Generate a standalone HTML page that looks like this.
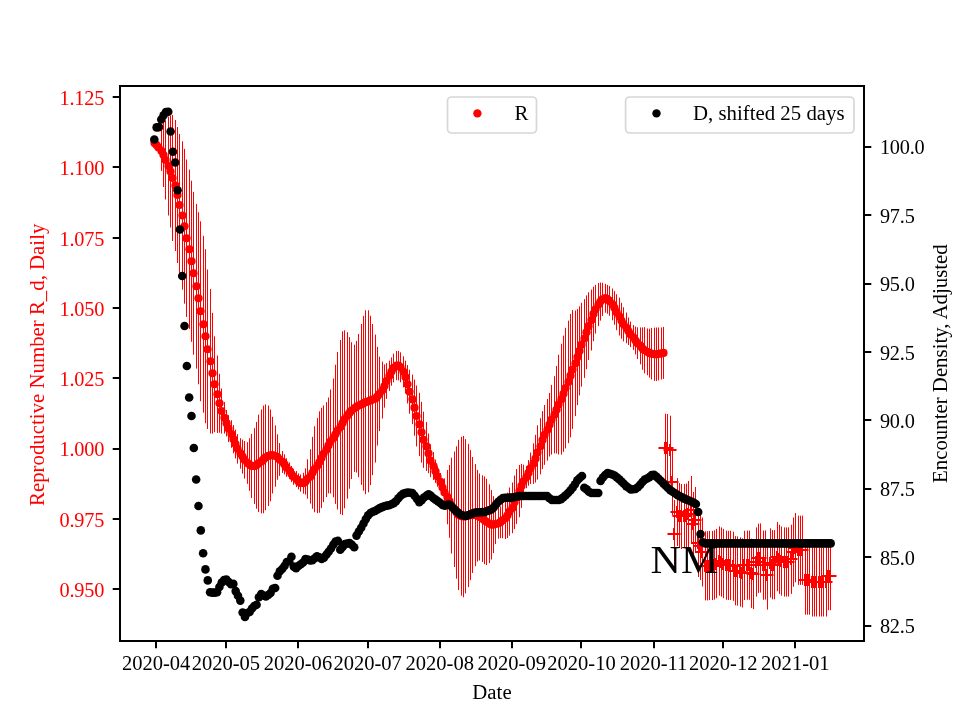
<!DOCTYPE html>
<html lang="en"><head><meta charset="utf-8"><title>R and D</title>
<style>html,body{margin:0;padding:0;background:#fff}svg{display:block}text{font-family:"Liberation Serif","Times New Roman",serif;font-size:20.83px}.yt{font-size:20.3px;letter-spacing:-0.2px}</style></head><body>
<svg width="960" height="720" viewBox="0 0 960 720">
<rect width="960" height="720" fill="#fff"/>
<g fill="#f00"><circle cx="154.5" cy="143" r="4.1"/><circle cx="156.5" cy="145" r="4.1"/><circle cx="158.5" cy="147.5" r="4.1"/><circle cx="161.5" cy="151" r="4.1"/><circle cx="163.5" cy="155" r="4.1"/><circle cx="165.5" cy="160" r="4.1"/><circle cx="168.5" cy="166" r="4.1"/><circle cx="170.5" cy="171.5" r="4.1"/><circle cx="172.5" cy="178" r="4.1"/><circle cx="175.5" cy="185.5" r="4.1"/><circle cx="177.5" cy="195" r="4.1"/><circle cx="179.5" cy="205" r="4.1"/><circle cx="182.5" cy="215.5" r="4.1"/><circle cx="184.5" cy="226.25" r="4.1"/><circle cx="186.5" cy="238.25" r="4.1"/><circle cx="189.5" cy="249.25" r="4.1"/><circle cx="191.5" cy="261.25" r="4.1"/><circle cx="193.5" cy="273.25" r="4.1"/><circle cx="196.5" cy="286.25" r="4.1"/><circle cx="198.5" cy="298.25" r="4.1"/><circle cx="200.5" cy="311.25" r="4.1"/><circle cx="203.5" cy="324.25" r="4.1"/><circle cx="205.5" cy="336.25" r="4.1"/><circle cx="207.5" cy="349.25" r="4.1"/><circle cx="210.5" cy="361.25" r="4.1"/><circle cx="212.5" cy="373.25" r="4.1"/><circle cx="214.5" cy="384.25" r="4.1"/><circle cx="217.5" cy="394.25" r="4.1"/><circle cx="219.5" cy="403.25" r="4.1"/><circle cx="221.5" cy="411" r="4.1"/><circle cx="224.5" cy="417.8" r="4.1"/><circle cx="226.5" cy="423.19" r="4.1"/><circle cx="228.5" cy="428.62" r="4.1"/><circle cx="231.5" cy="434.04" r="4.1"/><circle cx="233.5" cy="439.24" r="4.1"/><circle cx="235.5" cy="444.04" r="4.1"/><circle cx="237.5" cy="448.85" r="4.1"/><circle cx="240.5" cy="453.43" r="4.1"/><circle cx="242.5" cy="456.62" r="4.1"/><circle cx="244.5" cy="459.82" r="4.1"/><circle cx="247.5" cy="463.01" r="4.1"/><circle cx="249.5" cy="464.57" r="4.1"/><circle cx="251.5" cy="465.96" r="4.1"/><circle cx="254.5" cy="466.05" r="4.1"/><circle cx="256.5" cy="465.32" r="4.1"/><circle cx="258.5" cy="463.4" r="4.1"/><circle cx="261.5" cy="461.43" r="4.1"/><circle cx="263.5" cy="459.42" r="4.1"/><circle cx="265.5" cy="457.4" r="4.1"/><circle cx="268.5" cy="455.86" r="4.1"/><circle cx="270.5" cy="455.39" r="4.1"/><circle cx="272.5" cy="455.14" r="4.1"/><circle cx="275.5" cy="456.07" r="4.1"/><circle cx="277.5" cy="457" r="4.1"/><circle cx="279.5" cy="459.48" r="4.1"/><circle cx="282.5" cy="461.96" r="4.1"/><circle cx="284.5" cy="464.44" r="4.1"/><circle cx="286.5" cy="467.52" r="4.1"/><circle cx="289.5" cy="470.78" r="4.1"/><circle cx="291.5" cy="474.03" r="4.1"/><circle cx="293.5" cy="476.77" r="4.1"/><circle cx="296.5" cy="479.1" r="4.1"/><circle cx="298.5" cy="481.42" r="4.1"/><circle cx="300.5" cy="483.06" r="4.1"/><circle cx="303.5" cy="483.25" r="4.1"/><circle cx="305.5" cy="481.47" r="4.1"/><circle cx="307.5" cy="478.96" r="4.1"/><circle cx="310.5" cy="476.43" r="4.1"/><circle cx="312.5" cy="472.83" r="4.1"/><circle cx="314.5" cy="469.23" r="4.1"/><circle cx="317.5" cy="465.62" r="4.1"/><circle cx="319.5" cy="462.02" r="4.1"/><circle cx="321.5" cy="458" r="4.1"/><circle cx="323.5" cy="453.82" r="4.1"/><circle cx="326.5" cy="449.63" r="4.1"/><circle cx="328.5" cy="445.45" r="4.1"/><circle cx="330.5" cy="441.51" r="4.1"/><circle cx="333.5" cy="437.91" r="4.1"/><circle cx="335.5" cy="434.3" r="4.1"/><circle cx="337.5" cy="430.7" r="4.1"/><circle cx="340.5" cy="427.07" r="4.1"/><circle cx="342.5" cy="423.19" r="4.1"/><circle cx="344.5" cy="419.32" r="4.1"/><circle cx="347.5" cy="415.45" r="4.1"/><circle cx="349.5" cy="412.94" r="4.1"/><circle cx="351.5" cy="410.62" r="4.1"/><circle cx="354.5" cy="408.29" r="4.1"/><circle cx="356.5" cy="406.74" r="4.1"/><circle cx="358.5" cy="405.57" r="4.1"/><circle cx="361.5" cy="404.41" r="4.1"/><circle cx="363.5" cy="403.25" r="4.1"/><circle cx="365.5" cy="402.19" r="4.1"/><circle cx="368.5" cy="401.3" r="4.1"/><circle cx="370.5" cy="400.42" r="4.1"/><circle cx="372.5" cy="399.54" r="4.1"/><circle cx="375.5" cy="398.58" r="4.1"/><circle cx="377.5" cy="396.25" r="4.1"/><circle cx="379.5" cy="393.93" r="4.1"/><circle cx="382.5" cy="390.05" r="4.1"/><circle cx="384.5" cy="386.01" r="4.1"/><circle cx="386.5" cy="381.05" r="4.1"/><circle cx="389.5" cy="375.8" r="4.1"/><circle cx="391.5" cy="371.55" r="4.1"/><circle cx="393.5" cy="367.97" r="4.1"/><circle cx="396.5" cy="365.58" r="4.1"/><circle cx="398.5" cy="365.62" r="4.1"/><circle cx="400.5" cy="367.28" r="4.1"/><circle cx="403.5" cy="371.78" r="4.1"/><circle cx="405.5" cy="377.06" r="4.1"/><circle cx="407.5" cy="384.28" r="4.1"/><circle cx="409.5" cy="391.74" r="4.1"/><circle cx="412.5" cy="399.38" r="4.1"/><circle cx="414.5" cy="407.63" r="4.1"/><circle cx="416.5" cy="415.99" r="4.1"/><circle cx="419.5" cy="424.41" r="4.1"/><circle cx="421.5" cy="432.23" r="4.1"/><circle cx="423.5" cy="439.79" r="4.1"/><circle cx="426.5" cy="446.45" r="4.1"/><circle cx="428.5" cy="453.4" r="4.1"/><circle cx="430.5" cy="460.71" r="4.1"/><circle cx="433.5" cy="466.02" r="4.1"/><circle cx="435.5" cy="471.25" r="4.1"/><circle cx="437.5" cy="476.48" r="4.1"/><circle cx="440.5" cy="481.93" r="4.1"/><circle cx="442.5" cy="487.56" r="4.1"/><circle cx="444.5" cy="492.54" r="4.1"/><circle cx="447.5" cy="497.16" r="4.1"/><circle cx="449.5" cy="501.43" r="4.1"/><circle cx="451.5" cy="505.63" r="4.1"/><circle cx="454.5" cy="509.23" r="4.1"/><circle cx="456.5" cy="512.5" r="4.1"/><circle cx="458.5" cy="514.93" r="4.1"/><circle cx="461.5" cy="516.23" r="4.1"/><circle cx="463.5" cy="516.56" r="4.1"/><circle cx="465.5" cy="516.28" r="4.1"/><circle cx="468.5" cy="515.46" r="4.1"/><circle cx="470.5" cy="515.13" r="4.1"/><circle cx="472.5" cy="515.04" r="4.1"/><circle cx="475.5" cy="515.11" r="4.1"/><circle cx="477.5" cy="515.68" r="4.1"/><circle cx="479.5" cy="516.97" r="4.1"/><circle cx="482.5" cy="518.67" r="4.1"/><circle cx="484.5" cy="520.29" r="4.1"/><circle cx="486.5" cy="521.87" r="4.1"/><circle cx="489.5" cy="523.72" r="4.1"/><circle cx="491.5" cy="524.7" r="4.1"/><circle cx="493.5" cy="524.62" r="4.1"/><circle cx="495.5" cy="524.08" r="4.1"/><circle cx="498.5" cy="523.31" r="4.1"/><circle cx="500.5" cy="522.22" r="4.1"/><circle cx="502.5" cy="520.26" r="4.1"/><circle cx="505.5" cy="518.31" r="4.1"/><circle cx="507.5" cy="515.33" r="4.1"/><circle cx="509.5" cy="511.61" r="4.1"/><circle cx="512.5" cy="507.89" r="4.1"/><circle cx="514.5" cy="502.29" r="4.1"/><circle cx="516.5" cy="496.48" r="4.1"/><circle cx="519.5" cy="491.11" r="4.1"/><circle cx="521.5" cy="485.88" r="4.1"/><circle cx="523.5" cy="481.27" r="4.1"/><circle cx="526.5" cy="477.08" r="4.1"/><circle cx="528.5" cy="472.9" r="4.1"/><circle cx="530.5" cy="468.3" r="4.1"/><circle cx="533.5" cy="463.65" r="4.1"/><circle cx="535.5" cy="458.66" r="4.1"/><circle cx="537.5" cy="452.47" r="4.1"/><circle cx="540.5" cy="446.27" r="4.1"/><circle cx="542.5" cy="440.07" r="4.1"/><circle cx="544.5" cy="434.94" r="4.1"/><circle cx="547.5" cy="429.83" r="4.1"/><circle cx="549.5" cy="424.72" r="4.1"/><circle cx="551.5" cy="419.72" r="4.1"/><circle cx="554.5" cy="414.76" r="4.1"/><circle cx="556.5" cy="409.8" r="4.1"/><circle cx="558.5" cy="404.6" r="4.1"/><circle cx="561.5" cy="399.17" r="4.1"/><circle cx="563.5" cy="393.75" r="4.1"/><circle cx="565.5" cy="388.09" r="4.1"/><circle cx="568.5" cy="381.89" r="4.1"/><circle cx="570.5" cy="375.69" r="4.1"/><circle cx="572.5" cy="369.49" r="4.1"/><circle cx="575.5" cy="363.3" r="4.1"/><circle cx="577.5" cy="357.1" r="4.1"/><circle cx="579.5" cy="350.9" r="4.1"/><circle cx="581.5" cy="344.7" r="4.1"/><circle cx="584.5" cy="338.5" r="4.1"/><circle cx="586.5" cy="332.31" r="4.1"/><circle cx="588.5" cy="326.16" r="4.1"/><circle cx="591.5" cy="320.05" r="4.1"/><circle cx="593.5" cy="313.94" r="4.1"/><circle cx="595.5" cy="309.23" r="4.1"/><circle cx="598.5" cy="304.59" r="4.1"/><circle cx="600.5" cy="301.62" r="4.1"/><circle cx="602.5" cy="299.31" r="4.1"/><circle cx="605.5" cy="298.22" r="4.1"/><circle cx="607.5" cy="299.29" r="4.1"/><circle cx="609.5" cy="300.92" r="4.1"/><circle cx="612.5" cy="304.39" r="4.1"/><circle cx="614.5" cy="307.97" r="4.1"/><circle cx="616.5" cy="312.19" r="4.1"/><circle cx="619.5" cy="316.56" r="4.1"/><circle cx="621.5" cy="320.77" r="4.1"/><circle cx="623.5" cy="324.35" r="4.1"/><circle cx="626.5" cy="327.92" r="4.1"/><circle cx="628.5" cy="331.3" r="4.1"/><circle cx="630.5" cy="334.4" r="4.1"/><circle cx="633.5" cy="337.5" r="4.1"/><circle cx="635.5" cy="340.52" r="4.1"/><circle cx="637.5" cy="343.21" r="4.1"/><circle cx="640.5" cy="345.91" r="4.1"/><circle cx="642.5" cy="348.61" r="4.1"/><circle cx="644.5" cy="350.26" r="4.1"/><circle cx="647.5" cy="351.87" r="4.1"/><circle cx="649.5" cy="353.16" r="4.1"/><circle cx="651.5" cy="353.72" r="4.1"/><circle cx="654.5" cy="354.27" r="4.1"/><circle cx="656.5" cy="354.28" r="4.1"/><circle cx="658.5" cy="353.91" r="4.1"/><circle cx="661.5" cy="353.46" r="4.1"/><circle cx="663.5" cy="352.9" r="4.1"/></g>
<path d="M154.5 142V144M156.5 144V146M158.5 145.5V149.5M161.5 131V171M163.5 123V187M165.5 120.5V199.5M168.5 116.5V215.5M170.5 115.5V227.5M172.5 115V241M175.5 120V251M177.5 127V263M179.5 134V276M182.5 141.32V289.68M184.5 148.89V303.61M186.5 159.52V316.98M189.5 169.61V328.89M191.5 180.7V341.8M193.5 191.8V354.7M196.5 203.89V368.61M198.5 212.22V384.28M200.5 221.31V401.19M203.5 235.77V412.73M205.5 249.22V423.28M207.5 269.53V428.97M210.5 288.97V433.53M212.5 312.83V433.67M214.5 336.24V432.26M217.5 355.54V432.96M219.5 373.83V432.67M221.5 388.46V433.54M224.5 402.02V433.58M226.5 410.01V436.38M228.5 415.13V442.11M231.5 420.24V447.84M233.5 425.13V453.35M235.5 429.62V458.47M237.5 434.11V463.58M240.5 438.2V468.67M242.5 439.65V473.6M244.5 440.99V478.64M247.5 442.19V483.83M249.5 438.29V490.85M251.5 433.87V498.05M254.5 428.15V503.95M256.5 421.88V508.76M258.5 414.73V512.07M261.5 409.45V513.41M263.5 405.63V513.21M265.5 404.48V510.32M268.5 405.6V506.12M270.5 409.49V501.29M272.5 416.8V493.49M275.5 425.4V486.74M277.5 434.3V479.71M279.5 443.05V475.91M282.5 451.02V472.91M284.5 454.37V474.51M286.5 458.32V476.72M289.5 462.45V479.1M291.5 466.03V482.03M293.5 468.77V484.77M296.5 471.1V487.1M298.5 473.42V489.42M300.5 474.46V491.66M303.5 472.79V493.71M305.5 468.36V494.58M307.5 459.26V498.66M310.5 449.27V503.6M312.5 436.87V508.79M314.5 426.27V512.19M317.5 418.08V513.17M319.5 411.31V512.73M321.5 407.85V508.15M323.5 405.43V502.2M326.5 402.17V497.1M328.5 397.54V493.36M330.5 389.5V493.52M333.5 378.52V497.29M335.5 364.69V503.91M337.5 351.95V509.45M340.5 339.93V514.2M342.5 331.28V515.11M344.5 330.3V508.34M347.5 332.19V498.7M349.5 337.13V488.76M351.5 342.24V479M354.5 344.71V471.88M356.5 340.94V472.53M358.5 333.99V477.16M361.5 323.99V484.83M363.5 315.84V490.66M365.5 310.24V494.13M368.5 310.28V492.32M370.5 315.79V485.05M372.5 323.94V475.14M375.5 334.58V462.57M377.5 346.91V445.59M379.5 356.75V431.11M382.5 361.6V418.5M384.5 364.39V407.63M386.5 363.15V398.96M389.5 360.69V390.92M391.5 357.41V385.69M393.5 353.6V382.35M396.5 351V380.17M398.5 350.84V380.4M400.5 352.31V382.25M403.5 356.28V387.29M405.5 360.65V393.47M407.5 365.08V403.48M409.5 369.75V413.73M412.5 374.61V424.16M414.5 379.58V435.69M416.5 385.5V446.47M419.5 392.77V456.05M421.5 401.84V462.62M423.5 411.72V467.85M426.5 421.97V470.94M428.5 433.57V473.24M430.5 444.24V477.17M433.5 452.09V479.95M435.5 459.58V482.92M437.5 466.21V486.75M440.5 472.98V490.87M442.5 479.19V495.93M444.5 478.48V506.61M447.5 470.01V524.32M449.5 465.05V537.81M451.5 457.71V553.54M454.5 451.48V566.97M456.5 446.33V578.67M458.5 439.84V590.02M461.5 436.77V595.69M463.5 435.94V597.19M465.5 439.17V593.39M468.5 443.83V587.1M470.5 450.14V580.12M472.5 457.02V573.06M475.5 464.06V566.15M477.5 469.9V561.47M479.5 473.47V560.46M482.5 475.32V562.02M484.5 476.43V564.16M486.5 478.8V564.94M489.5 484.34V563.1M491.5 489.94V559.46M493.5 496.14V553.11M495.5 504.03V544.12M498.5 507.94V538.67M500.5 506.35V538.08M502.5 502.26V538.27M505.5 497.66V538.96M507.5 492.66V537.99M509.5 487.53V535.68M512.5 482.52V533.25M514.5 475.55V529.04M516.5 469.1V523.87M519.5 464.99V517.22M521.5 463.88V507.88M523.5 464.69V497.84M526.5 465.97V488.19M528.5 460.08V485.72M530.5 452.59V484M533.5 443.37V483.92M535.5 434.77V482.55M537.5 425.34V479.6M540.5 418.21V474.33M542.5 411.08V469.06M544.5 405.02V464.86M547.5 398.98V460.68M549.5 392.94V456.5M551.5 384.89V454.56M554.5 376.21V453.32M556.5 366.07V453.54M558.5 354.75V454.45M561.5 343.75V454.6M563.5 335.62V451.88M565.5 327.8V448.38M568.5 320.67V443.11M570.5 313.98V437.4M572.5 310.04V428.95M575.5 310.48V416.11M577.5 309.11V405.09M579.5 306.39V395.41M581.5 302.82V386.58M584.5 299.1V377.9M586.5 295.38V369.23M588.5 292.29V360.04M591.5 289.56V350.55M593.5 286.69V341.19M595.5 284.84V333.63M598.5 283.04V326.13M600.5 282.6V320.64M602.5 282.69V315.93M605.5 283.78V312.66M607.5 284.86V313.72M609.5 285.94V315.89M612.5 288.51V320.27M614.5 291.16V324.78M616.5 294.26V330.11M619.5 297.63V335.49M621.5 302.77V338.77M623.5 307.27V341.42M626.5 312.53V343.31M628.5 317.51V345.09M630.5 321.64V347.15M633.5 325.08V349.91M635.5 326.55V354.48M637.5 327.35V359.08M640.5 327.43V364.39M642.5 327.45V369.76M644.5 327.16V373.35M647.5 328.48V375.25M649.5 328.74V377.59M651.5 327.95V379.49M654.5 327.63V380.91M656.5 327.51V381.05M658.5 327.52V380.29M661.5 327.46V379.46M663.5 326.9V378.9" stroke="#f00" stroke-width="1" fill="none"/>
<path d="M665.5 413.7V481.7M667.5 414V482M670.5 415.7V483.7M672.5 447.5V515.5M674.5 500V568M677.5 478V546M679.5 483V548M681.5 484V549M684.5 484V548M686.5 483.5V547.5M688.5 481V547M691.5 476V544M693.5 492V556M695.5 487V553M698.5 509V577M700.5 512V580M702.5 517.5V586.5M705.5 531.2V600.4M707.5 531.2V600.4M709.5 530.9V600.1M712.5 530.9V600.1M714.5 530.4V599.6M716.5 528.9V598.1M719.5 526.4V595.6M721.5 527.4V596.6M723.5 528.9V598.1M726.5 530.6V599.8M728.5 530.8V600M730.5 530.8V600M733.5 531.7V600.9M735.5 536.1V605.3M737.5 536.4V605.6M740.5 537.4V606.6M742.5 538.3V607.5M744.5 530.8V600M747.5 530.6V599.8M749.5 530.6V599.8M751.5 538.7V607.9M753.5 539.9V609.1M756.5 527.4V596.6M758.5 523.7V592.9M760.5 523.4V592.6M763.5 530.6V599.8M765.5 530.4V599.6M767.5 540.4V609.6M770.5 528.3V597.5M772.5 530.1V599.3M774.5 530.1V599.3M777.5 522V591.2M779.5 524.7V593.9M781.5 526.5V595.7M784.5 527.4V596.6M786.5 527.4V596.6M788.5 527.4V596.6M791.5 524.7V593.9M793.5 517.5V586.7M795.5 513V582.2M798.5 515.7V584.9M800.5 515.7V584.9M802.5 515.7V584.9M805.5 545.5V614.7M807.5 545.5V614.7M809.5 545.5V614.7M812.5 547.3V616.5M814.5 547.3V616.5M816.5 547.3V616.5M819.5 547.3V616.5M821.5 547.3V616.5M823.5 547.3V616.5M826.5 547.3V616.5M828.5 541V610.2M830.5 541V610.2" stroke="#f00" stroke-width="1" fill="none"/>
<path d="M658.5 448h13M665 442v12M660.5 448h13M667 442v12M663.5 450h13M670 444v12M665.5 482h13M672 476v12M667.5 534h13M674 528v12M670.5 512h13M677 506v12M672.5 516h13M679 510v12M674.5 516h13M681 510v12M677.5 516h13M684 510v12M679.5 516h13M686 510v12M681.5 514h13M688 508v12M684.5 510h13M691 504v12M686.5 524h13M693 518v12M688.5 520h13M695 514v12M691.5 543h13M698 537v12M693.5 546h13M700 540v12M695.5 552h13M702 546v12M698.5 566h13M705 560v12M700.5 566h13M707 560v12M702.5 566h13M709 560v12M705.5 566h13M712 560v12M707.5 565h13M714 559v12M709.5 564h13M716 558v12M712.5 561h13M719 555v12M714.5 562h13M721 556v12M716.5 564h13M723 558v12M719.5 565h13M726 559v12M721.5 565h13M728 559v12M723.5 565h13M730 559v12M726.5 566h13M733 560v12M728.5 571h13M735 565v12M730.5 571h13M737 565v12M733.5 572h13M740 566v12M735.5 573h13M742 567v12M737.5 565h13M744 559v12M740.5 565h13M747 559v12M742.5 565h13M749 559v12M744.5 573h13M751 567v12M746.5 574h13M753 568v12M749.5 562h13M756 556v12M751.5 558h13M758 552v12M753.5 558h13M760 552v12M756.5 565h13M763 559v12M758.5 565h13M765 559v12M760.5 575h13M767 569v12M763.5 563h13M770 557v12M765.5 565h13M772 559v12M767.5 565h13M774 559v12M770.5 557h13M777 551v12M772.5 559h13M779 553v12M774.5 561h13M781 555v12M777.5 562h13M784 556v12M779.5 562h13M786 556v12M781.5 562h13M788 556v12M784.5 559h13M791 553v12M786.5 552h13M793 546v12M788.5 548h13M795 542v12M791.5 550h13M798 544v12M793.5 550h13M800 544v12M795.5 550h13M802 544v12M798.5 580h13M805 574v12M800.5 580h13M807 574v12M802.5 580h13M809 574v12M805.5 582h13M812 576v12M807.5 582h13M814 576v12M809.5 582h13M816 576v12M812.5 582h13M819 576v12M814.5 582h13M821 576v12M816.5 582h13M823 576v12M819.5 582h13M826 576v12M821.5 576h13M828 570v12M823.5 576h13M830 570v12" stroke="#f00" stroke-width="2" fill="none"/>
<text x="650.5" y="572.5" style="font-size:39.5px" textLength="67.8" lengthAdjust="spacingAndGlyphs" fill="#000">NM</text>
<path d="M156 641v7.3M226 641v7.3M298 641v7.3M368 641v7.3M440 641v7.3M512 641v7.3M581 641v7.3M654 641v7.3M723 641v7.3M795 641v7.3M120 97h-7.3M120 167h-7.3M120 238h-7.3M120 308h-7.3M120 378h-7.3M120 449h-7.3M120 519h-7.3M120 589h-7.3M864 147h7.3M864 215h7.3M864 284h7.3M864 352h7.3M864 420h7.3M864 489h7.3M864 557h7.3M864 626h7.3" stroke="#000" stroke-width="2" fill="none"/>
<text x="156.14" y="670" text-anchor="middle" style="font-size:20.55px">2020-04</text>
<text x="225.87" y="670" text-anchor="middle" style="font-size:20.55px">2020-05</text>
<text x="297.92" y="670" text-anchor="middle" style="font-size:20.55px">2020-06</text>
<text x="367.65" y="670" text-anchor="middle" style="font-size:20.55px">2020-07</text>
<text x="439.7" y="670" text-anchor="middle" style="font-size:20.55px">2020-08</text>
<text x="511.76" y="670" text-anchor="middle" style="font-size:20.55px">2020-09</text>
<text x="581.49" y="670" text-anchor="middle" style="font-size:20.55px">2020-10</text>
<text x="653.54" y="670" text-anchor="middle" style="font-size:20.55px">2020-11</text>
<text x="723.27" y="670" text-anchor="middle" style="font-size:20.55px">2020-12</text>
<text x="795.32" y="670" text-anchor="middle" style="font-size:20.55px">2021-01</text>
<text x="104.2" y="104.9" text-anchor="end" fill="#f00" class="yt">1.125</text>
<text x="104.2" y="175.2" text-anchor="end" fill="#f00" class="yt">1.100</text>
<text x="104.2" y="245.5" text-anchor="end" fill="#f00" class="yt">1.075</text>
<text x="104.2" y="315.8" text-anchor="end" fill="#f00" class="yt">1.050</text>
<text x="104.2" y="386.1" text-anchor="end" fill="#f00" class="yt">1.025</text>
<text x="104.2" y="456.4" text-anchor="end" fill="#f00" class="yt">1.000</text>
<text x="104.2" y="526.7" text-anchor="end" fill="#f00" class="yt">0.975</text>
<text x="104.2" y="597" text-anchor="end" fill="#f00" class="yt">0.950</text>
<text x="879.9" y="154.3" class="yt">100.0</text>
<text x="879.9" y="222.7" class="yt">97.5</text>
<text x="879.9" y="291.1" class="yt">95.0</text>
<text x="879.9" y="359.5" class="yt">92.5</text>
<text x="879.9" y="427.9" class="yt">90.0</text>
<text x="879.9" y="496.3" class="yt">87.5</text>
<text x="879.9" y="564.7" class="yt">85.0</text>
<text x="879.9" y="633.1" class="yt">82.5</text>
<text x="492" y="699" text-anchor="middle">Date</text>
<text transform="translate(44,364.8) rotate(-90)" text-anchor="middle" fill="#f00">Reproductive Number R_d, Daily</text>
<text transform="translate(947,363.6) rotate(-90)" text-anchor="middle">Encounter Density, Adjusted</text>
<rect x="447.5" y="97" width="89" height="36" rx="4" ry="4" fill="#fff" fill-opacity="0.8" stroke="#ccc" stroke-opacity="0.8" stroke-width="1.67"/>
<circle cx="477.4" cy="113.4" r="4.2" fill="#f00"/>
<text x="514.5" y="120.3">R</text>
<g fill="#000"><circle cx="154.32" cy="139.5" r="4.3"/><circle cx="156.64" cy="127.4" r="4.3"/><circle cx="158.96" cy="127.1" r="4.3"/><circle cx="161.29" cy="119.5" r="4.3"/><circle cx="163.61" cy="115.3" r="4.3"/><circle cx="165.94" cy="112" r="4.3"/><circle cx="168.26" cy="111.7" r="4.3"/><circle cx="170.59" cy="131.5" r="4.3"/><circle cx="172.91" cy="151.7" r="4.3"/><circle cx="175.23" cy="162.5" r="4.3"/><circle cx="177.56" cy="190.2" r="4.3"/><circle cx="179.88" cy="229.5" r="4.3"/><circle cx="182.21" cy="276" r="4.3"/><circle cx="184.53" cy="326" r="4.3"/><circle cx="186.86" cy="366" r="4.3"/><circle cx="189.18" cy="397.5" r="4.3"/><circle cx="191.5" cy="416" r="4.3"/><circle cx="193.83" cy="448" r="4.3"/><circle cx="196.15" cy="479.5" r="4.3"/><circle cx="198.48" cy="506" r="4.3"/><circle cx="200.8" cy="530.4" r="4.3"/><circle cx="203.13" cy="553.3" r="4.3"/><circle cx="205.45" cy="569.4" r="4.3"/><circle cx="207.77" cy="580.4" r="4.3"/><circle cx="210.1" cy="592.3" r="4.3"/><circle cx="212.42" cy="592.6" r="4.3"/><circle cx="214.75" cy="592.6" r="4.3"/><circle cx="217.07" cy="592.3" r="4.3"/><circle cx="219.4" cy="587" r="4.3"/><circle cx="221.72" cy="582.5" r="4.3"/><circle cx="224.04" cy="580" r="4.3"/><circle cx="226.37" cy="579.6" r="4.3"/><circle cx="228.69" cy="582" r="4.3"/><circle cx="231.02" cy="584.2" r="4.3"/><circle cx="233.34" cy="583.9" r="4.3"/><circle cx="235.67" cy="591.1" r="4.3"/><circle cx="237.99" cy="595.7" r="4.3"/><circle cx="240.31" cy="600.6" r="4.3"/><circle cx="242.64" cy="612.5" r="4.3"/><circle cx="244.96" cy="617" r="4.3"/><circle cx="247.29" cy="613" r="4.3"/><circle cx="249.61" cy="612" r="4.3"/><circle cx="251.94" cy="608.5" r="4.3"/><circle cx="254.26" cy="606" r="4.3"/><circle cx="256.58" cy="604.8" r="4.3"/><circle cx="258.91" cy="597.2" r="4.3"/><circle cx="261.23" cy="594.1" r="4.3"/><circle cx="263.56" cy="595.5" r="4.3"/><circle cx="265.88" cy="596.4" r="4.3"/><circle cx="268.21" cy="595" r="4.3"/><circle cx="270.53" cy="593" r="4.3"/><circle cx="272.86" cy="588.8" r="4.3"/><circle cx="275.18" cy="588" r="4.3"/><circle cx="277.5" cy="575.8" r="4.3"/><circle cx="279.83" cy="571.2" r="4.3"/><circle cx="282.15" cy="569" r="4.3"/><circle cx="284.48" cy="566" r="4.3"/><circle cx="286.8" cy="562" r="4.3"/><circle cx="289.13" cy="561.3" r="4.3"/><circle cx="291.45" cy="556.7" r="4.3"/><circle cx="293.77" cy="566.6" r="4.3"/><circle cx="296.1" cy="568.1" r="4.3"/><circle cx="298.42" cy="566" r="4.3"/><circle cx="300.75" cy="564.3" r="4.3"/><circle cx="303.07" cy="562.5" r="4.3"/><circle cx="305.4" cy="559" r="4.3"/><circle cx="307.72" cy="559.5" r="4.3"/><circle cx="310.04" cy="560.5" r="4.3"/><circle cx="312.37" cy="560.2" r="4.3"/><circle cx="314.69" cy="558.3" r="4.3"/><circle cx="317.02" cy="556.4" r="4.3"/><circle cx="319.34" cy="557.29" r="4.3"/><circle cx="321.67" cy="558.92" r="4.3"/><circle cx="323.99" cy="557.61" r="4.3"/><circle cx="326.31" cy="554.67" r="4.3"/><circle cx="328.64" cy="551.72" r="4.3"/><circle cx="330.96" cy="548.44" r="4.3"/><circle cx="333.29" cy="544.67" r="4.3"/><circle cx="335.61" cy="541.49" r="4.3"/><circle cx="337.94" cy="540.92" r="4.3"/><circle cx="340.26" cy="549.69" r="4.3"/><circle cx="342.58" cy="546.9" r="4.3"/><circle cx="344.91" cy="544.11" r="4.3"/><circle cx="347.23" cy="543.55" r="4.3"/><circle cx="349.56" cy="543.09" r="4.3"/><circle cx="351.88" cy="544.88" r="4.3"/><circle cx="354.21" cy="547.21" r="4.3"/><circle cx="356.53" cy="535.59" r="4.3"/><circle cx="358.85" cy="531.43" r="4.3"/><circle cx="361.18" cy="527.79" r="4.3"/><circle cx="363.5" cy="523.43" r="4.3"/><circle cx="365.83" cy="519.11" r="4.3"/><circle cx="368.15" cy="515.35" r="4.3"/><circle cx="370.48" cy="513.02" r="4.3"/><circle cx="372.8" cy="511.83" r="4.3"/><circle cx="375.12" cy="510.93" r="4.3"/><circle cx="377.45" cy="509.53" r="4.3"/><circle cx="379.77" cy="508.14" r="4.3"/><circle cx="382.1" cy="507.16" r="4.3"/><circle cx="384.42" cy="506.23" r="4.3"/><circle cx="386.75" cy="505.65" r="4.3"/><circle cx="389.07" cy="505.19" r="4.3"/><circle cx="391.39" cy="504.3" r="4.3"/><circle cx="393.72" cy="503.14" r="4.3"/><circle cx="396.04" cy="501.2" r="4.3"/><circle cx="398.37" cy="498.29" r="4.3"/><circle cx="400.69" cy="495.81" r="4.3"/><circle cx="403.02" cy="493.85" r="4.3"/><circle cx="405.34" cy="493.15" r="4.3"/><circle cx="407.66" cy="492.52" r="4.3"/><circle cx="409.99" cy="492.75" r="4.3"/><circle cx="412.31" cy="492.98" r="4.3"/><circle cx="414.64" cy="495.75" r="4.3"/><circle cx="416.96" cy="498.87" r="4.3"/><circle cx="419.29" cy="502.19" r="4.3"/><circle cx="421.61" cy="500.16" r="4.3"/><circle cx="423.93" cy="497.57" r="4.3"/><circle cx="426.26" cy="495.92" r="4.3"/><circle cx="428.58" cy="494.29" r="4.3"/><circle cx="430.91" cy="495.91" r="4.3"/><circle cx="433.23" cy="498.01" r="4.3"/><circle cx="435.56" cy="499.64" r="4.3"/><circle cx="437.88" cy="501.29" r="4.3"/><circle cx="440.2" cy="503.08" r="4.3"/><circle cx="442.53" cy="504.87" r="4.3"/><circle cx="444.85" cy="505.66" r="4.3"/><circle cx="447.18" cy="504.73" r="4.3"/><circle cx="449.5" cy="504.5" r="4.3"/><circle cx="451.83" cy="506.83" r="4.3"/><circle cx="454.15" cy="509.15" r="4.3"/><circle cx="456.47" cy="511.23" r="4.3"/><circle cx="458.8" cy="513.17" r="4.3"/><circle cx="461.12" cy="515.02" r="4.3"/><circle cx="463.45" cy="515.49" r="4.3"/><circle cx="465.77" cy="515.95" r="4.3"/><circle cx="468.1" cy="515.18" r="4.3"/><circle cx="470.42" cy="514.28" r="4.3"/><circle cx="472.74" cy="513.38" r="4.3"/><circle cx="475.07" cy="512.5" r="4.3"/><circle cx="477.39" cy="512.38" r="4.3"/><circle cx="479.72" cy="512.26" r="4.3"/><circle cx="482.04" cy="512.15" r="4.3"/><circle cx="484.37" cy="512.03" r="4.3"/><circle cx="486.69" cy="511.32" r="4.3"/><circle cx="489.01" cy="510.39" r="4.3"/><circle cx="491.34" cy="509.46" r="4.3"/><circle cx="493.66" cy="507.49" r="4.3"/><circle cx="495.99" cy="504.47" r="4.3"/><circle cx="498.31" cy="501.77" r="4.3"/><circle cx="500.64" cy="499.68" r="4.3"/><circle cx="502.96" cy="497.98" r="4.3"/><circle cx="505.28" cy="497.86" r="4.3"/><circle cx="507.61" cy="497.74" r="4.3"/><circle cx="509.93" cy="497.63" r="4.3"/><circle cx="512.26" cy="497.51" r="4.3"/><circle cx="514.58" cy="497.08" r="4.3"/><circle cx="516.91" cy="496.62" r="4.3"/><circle cx="519.23" cy="496.15" r="4.3"/><circle cx="521.56" cy="496" r="4.3"/><circle cx="523.88" cy="496" r="4.3"/><circle cx="526.2" cy="496" r="4.3"/><circle cx="528.53" cy="496" r="4.3"/><circle cx="530.85" cy="496" r="4.3"/><circle cx="533.18" cy="496" r="4.3"/><circle cx="535.5" cy="496" r="4.3"/><circle cx="537.83" cy="496" r="4.3"/><circle cx="540.15" cy="496" r="4.3"/><circle cx="542.47" cy="496" r="4.3"/><circle cx="544.8" cy="496" r="4.3"/><circle cx="547.12" cy="496" r="4.3"/><circle cx="549.45" cy="498.22" r="4.3"/><circle cx="551.77" cy="500" r="4.3"/><circle cx="554.1" cy="500" r="4.3"/><circle cx="556.42" cy="500" r="4.3"/><circle cx="558.74" cy="500" r="4.3"/><circle cx="561.07" cy="499.15" r="4.3"/><circle cx="563.39" cy="497.29" r="4.3"/><circle cx="565.72" cy="495.28" r="4.3"/><circle cx="568.04" cy="492.96" r="4.3"/><circle cx="570.37" cy="490.54" r="4.3"/><circle cx="572.69" cy="487.64" r="4.3"/><circle cx="575.01" cy="484.26" r="4.3"/><circle cx="577.34" cy="480.28" r="4.3"/><circle cx="579.66" cy="478.08" r="4.3"/><circle cx="581.99" cy="476.01" r="4.3"/><circle cx="584.31" cy="487.72" r="4.3"/><circle cx="586.64" cy="489.38" r="4.3"/><circle cx="588.96" cy="491.75" r="4.3"/><circle cx="591.28" cy="493" r="4.3"/><circle cx="593.61" cy="493" r="4.3"/><circle cx="595.93" cy="493" r="4.3"/><circle cx="598.26" cy="493" r="4.3"/><circle cx="600.58" cy="480.88" r="4.3"/><circle cx="602.91" cy="477.56" r="4.3"/><circle cx="605.23" cy="474.95" r="4.3"/><circle cx="607.55" cy="473.02" r="4.3"/><circle cx="609.88" cy="473.73" r="4.3"/><circle cx="612.2" cy="474.45" r="4.3"/><circle cx="614.53" cy="475.44" r="4.3"/><circle cx="616.85" cy="477.38" r="4.3"/><circle cx="619.18" cy="479.31" r="4.3"/><circle cx="621.5" cy="481.5" r="4.3"/><circle cx="623.82" cy="483.82" r="4.3"/><circle cx="626.15" cy="486.1" r="4.3"/><circle cx="628.47" cy="487.73" r="4.3"/><circle cx="630.8" cy="489.36" r="4.3"/><circle cx="633.12" cy="489.29" r="4.3"/><circle cx="635.45" cy="489.06" r="4.3"/><circle cx="637.77" cy="487.23" r="4.3"/><circle cx="640.09" cy="484.88" r="4.3"/><circle cx="642.42" cy="481.98" r="4.3"/><circle cx="644.74" cy="479.63" r="4.3"/><circle cx="647.07" cy="478.47" r="4.3"/><circle cx="649.39" cy="477.16" r="4.3"/><circle cx="651.72" cy="475.12" r="4.3"/><circle cx="654.04" cy="474.81" r="4.3"/><circle cx="656.36" cy="476.62" r="4.3"/><circle cx="658.69" cy="478.69" r="4.3"/><circle cx="661.01" cy="481.01" r="4.3"/><circle cx="663.34" cy="483.34" r="4.3"/><circle cx="665.66" cy="485.66" r="4.3"/><circle cx="667.99" cy="487.99" r="4.3"/><circle cx="670.31" cy="490.21" r="4.3"/><circle cx="672.63" cy="491.76" r="4.3"/><circle cx="674.96" cy="493.31" r="4.3"/><circle cx="677.28" cy="494.86" r="4.3"/><circle cx="679.61" cy="496.12" r="4.3"/><circle cx="681.93" cy="497.36" r="4.3"/><circle cx="684.26" cy="498.6" r="4.3"/><circle cx="686.58" cy="499.63" r="4.3"/><circle cx="688.9" cy="500.56" r="4.3"/><circle cx="691.23" cy="501.49" r="4.3"/><circle cx="693.55" cy="502.6" r="4.3"/><circle cx="695.88" cy="503.93" r="4.3"/><circle cx="698.2" cy="512.02" r="4.3"/><circle cx="700.53" cy="534.09" r="4.3"/><circle cx="702.85" cy="542.3" r="4.3"/><circle cx="705.17" cy="543.39" r="4.3"/><circle cx="707.5" cy="543.4" r="4.3"/><circle cx="709.82" cy="543.4" r="4.3"/><circle cx="712.15" cy="543.4" r="4.3"/><circle cx="714.47" cy="543.4" r="4.3"/><circle cx="716.8" cy="543.4" r="4.3"/><circle cx="719.12" cy="543.4" r="4.3"/><circle cx="721.44" cy="543.4" r="4.3"/><circle cx="723.77" cy="543.4" r="4.3"/><circle cx="726.09" cy="543.4" r="4.3"/><circle cx="728.42" cy="543.4" r="4.3"/><circle cx="730.74" cy="543.4" r="4.3"/><circle cx="733.07" cy="543.4" r="4.3"/><circle cx="735.39" cy="543.4" r="4.3"/><circle cx="737.72" cy="543.4" r="4.3"/><circle cx="740.04" cy="543.4" r="4.3"/><circle cx="742.36" cy="543.4" r="4.3"/><circle cx="744.69" cy="543.4" r="4.3"/><circle cx="747.01" cy="543.4" r="4.3"/><circle cx="749.34" cy="543.4" r="4.3"/><circle cx="751.66" cy="543.4" r="4.3"/><circle cx="753.99" cy="543.4" r="4.3"/><circle cx="756.31" cy="543.4" r="4.3"/><circle cx="758.63" cy="543.4" r="4.3"/><circle cx="760.96" cy="543.4" r="4.3"/><circle cx="763.28" cy="543.4" r="4.3"/><circle cx="765.61" cy="543.4" r="4.3"/><circle cx="767.93" cy="543.4" r="4.3"/><circle cx="770.26" cy="543.4" r="4.3"/><circle cx="772.58" cy="543.4" r="4.3"/><circle cx="774.9" cy="543.4" r="4.3"/><circle cx="777.23" cy="543.4" r="4.3"/><circle cx="779.55" cy="543.4" r="4.3"/><circle cx="781.88" cy="543.4" r="4.3"/><circle cx="784.2" cy="543.4" r="4.3"/><circle cx="786.53" cy="543.4" r="4.3"/><circle cx="788.85" cy="543.4" r="4.3"/><circle cx="791.17" cy="543.4" r="4.3"/><circle cx="793.5" cy="543.4" r="4.3"/><circle cx="795.82" cy="543.4" r="4.3"/><circle cx="798.15" cy="543.4" r="4.3"/><circle cx="800.47" cy="543.4" r="4.3"/><circle cx="802.8" cy="543.4" r="4.3"/><circle cx="805.12" cy="543.4" r="4.3"/><circle cx="807.44" cy="543.4" r="4.3"/><circle cx="809.77" cy="543.4" r="4.3"/><circle cx="812.09" cy="543.4" r="4.3"/><circle cx="814.42" cy="543.4" r="4.3"/><circle cx="816.74" cy="543.4" r="4.3"/><circle cx="819.07" cy="543.4" r="4.3"/><circle cx="821.39" cy="543.4" r="4.3"/><circle cx="823.71" cy="543.4" r="4.3"/><circle cx="826.04" cy="543.4" r="4.3"/><circle cx="828.36" cy="543.4" r="4.3"/><circle cx="830.69" cy="543.4" r="4.3"/></g>
<rect x="120" y="86" width="744" height="555" fill="none" stroke="#000" stroke-width="2"/>
<rect x="625.6" y="97" width="228.4" height="36" rx="4" ry="4" fill="#fff" fill-opacity="0.8" stroke="#ccc" stroke-opacity="0.8" stroke-width="1.67"/>
<circle cx="656.5" cy="113.4" r="4.2" fill="#000"/>
<text x="693" y="120.3">D, shifted 25 days</text>
</svg></body></html>
